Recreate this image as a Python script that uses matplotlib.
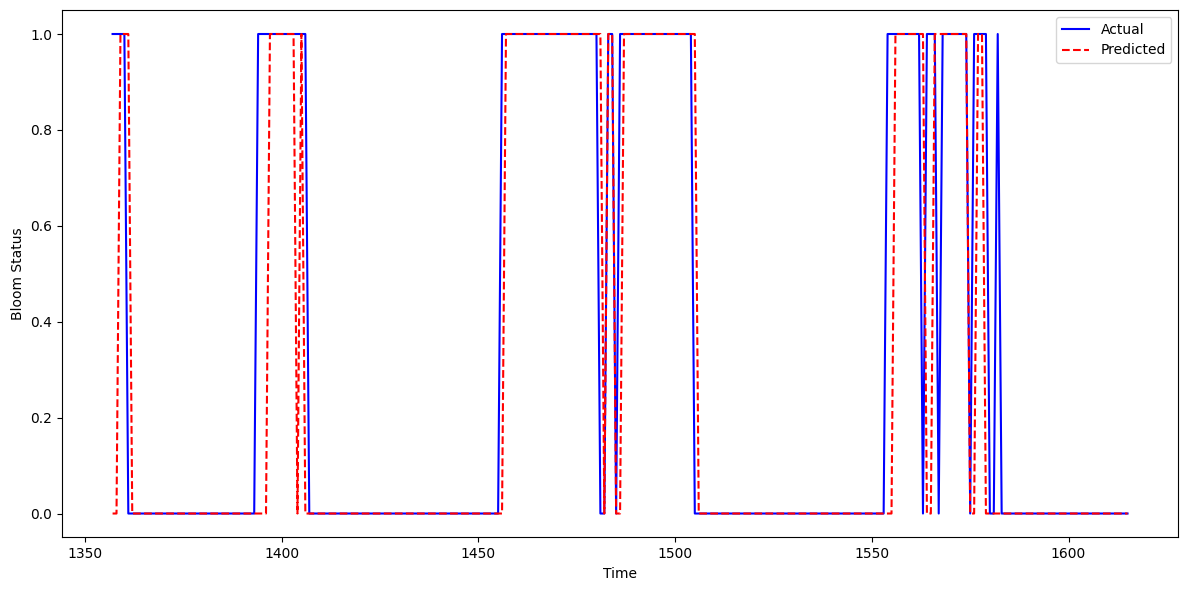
import matplotlib
matplotlib.use("Agg")
import matplotlib.pyplot as plt

time = list(range(1357, 1616))
actual = ([1]*4 + [0]*33 + [1]*13 + [0]*49 + [1]*25 + [0]*2 + [1]*2 + [0]*1 + [1]*19 + [0]*49
          + [1]*9 + [0]*1 + [1]*3 + [0]*1 + [1]*7 + [0]*1 + [1]*4 + [0]*2 + [1]*1 + [0]*33)
predicted = ([0]*2 + [1]*3 + [0]*35 + [1]*7 + [0]*1 + [1]*1 + [0]*51 + [1]*25 + [0]*1 + [1]*2 + [0]*2
             + [1]*19 + [0]*50 + [1]*8 + [0]*2 + [1]*9 + [0]*2 + [1]*2 + [0]*37)

fig, ax = plt.subplots(figsize=(11.89, 5.9), dpi=100)
ax.plot(time, actual, color="blue", label="Actual")
ax.plot(time, predicted, color="red", linestyle="--", label="Predicted")
ax.set_xlabel("Time")
ax.set_ylabel("Bloom Status")
ax.legend()
fig.subplots_adjust(left=0.052, right=0.991, top=0.983, bottom=0.089)
fig.savefig("out.png")
